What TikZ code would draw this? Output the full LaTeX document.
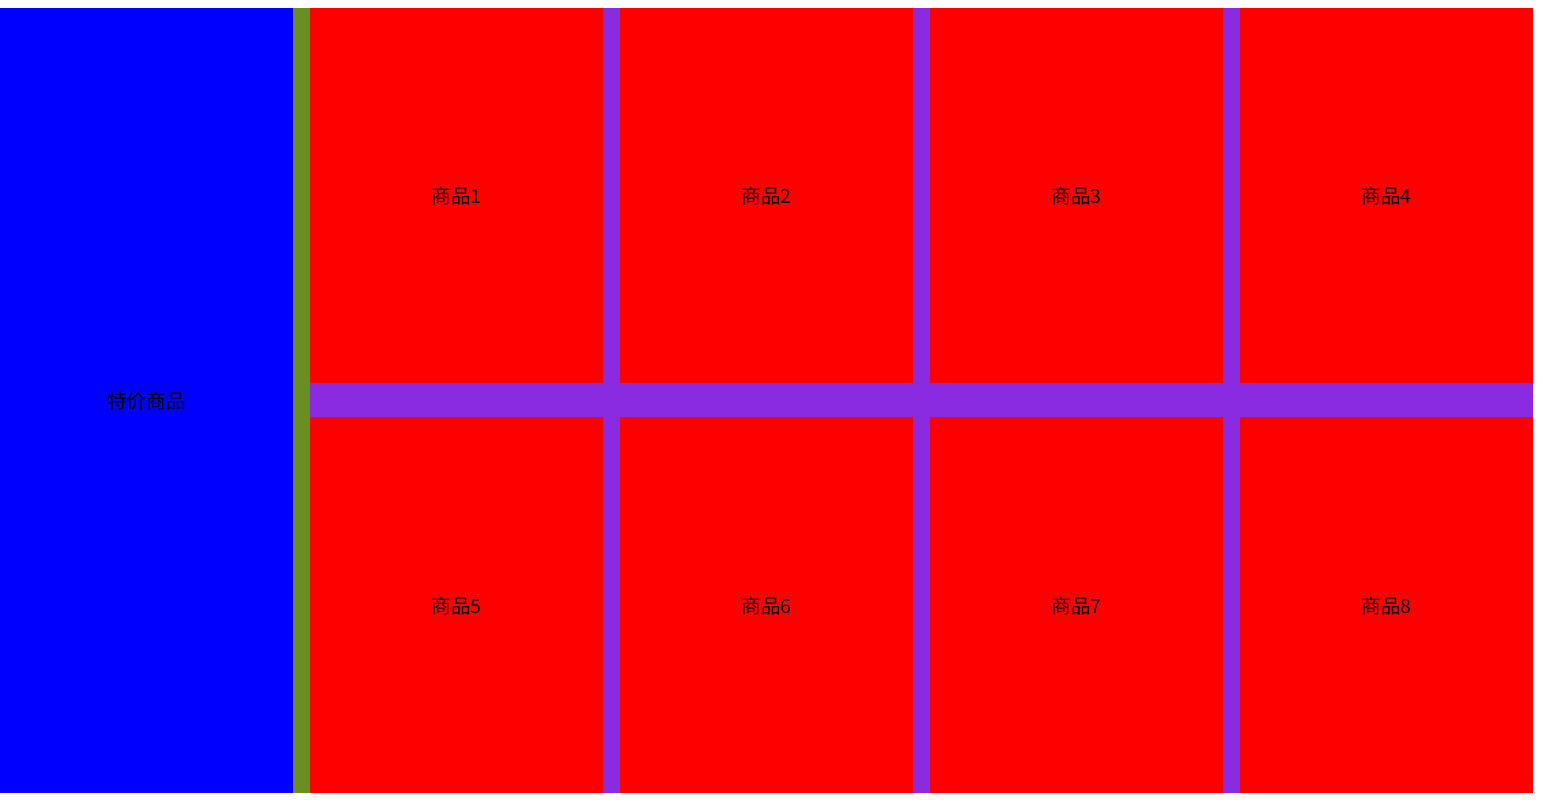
\documentclass[tikz,border=0pt]{standalone}
\usepackage{fontspec}
\setmainfont{Noto Sans CJK SC}
\definecolor{bviolet}{HTML}{8A2BE2}
\definecolor{odrab}{HTML}{6B8E23}
\begin{document}
\begin{tikzpicture}[x=1pt,y=-1pt,
  cell/.style={fill=red,draw=none},
  lbl/.style={font=\fontsize{19.6pt}{22pt}\selectfont,text=black,inner sep=0pt}]
\useasboundingbox (0,0) rectangle (1549,801);
\fill[white] (0,0) rectangle (1549,801);
\fill[blue] (0,8) rectangle (293,793);
\fill[odrab] (293,8) rectangle (310,793);
\fill[bviolet] (310,8) rectangle (1533,793);
\node[lbl] (special) at (146.5,401) {特价商品};
\foreach \i/\x in {1/310,2/620,3/930,4/1240}{
  \fill[cell] (\x,8) rectangle ++(293,375);
  \node[lbl] (g\i) at (\x+146.5,196.5) {商品\i};
}
\foreach \i/\x in {5/310,6/620,7/930,8/1240}{
  \fill[cell] (\x,417) rectangle ++(293,376);
  \node[lbl] (g\i) at (\x+146.5,606) {商品\i};
}
\end{tikzpicture}
\end{document}
